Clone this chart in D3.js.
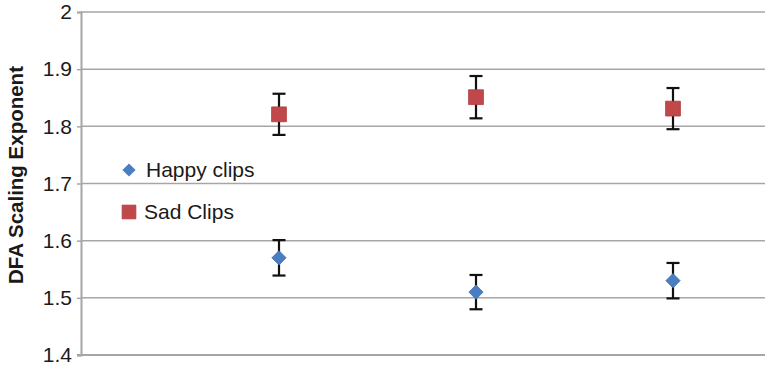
<!DOCTYPE html>
<html>
<head>
<meta charset="utf-8">
<script src="https://cdn.jsdelivr.net/npm/d3@7"></script>
<style>
  html, body { margin: 0; padding: 0; background: #fff; }
  svg { display: block; font-family: Arial, "Liberation Sans", Helvetica, sans-serif; }
</style>
</head>
<body>
<svg id="chart" width="765" height="367"></svg>
<script>
// Clip sets along the x axis (unlabelled on the chart)
const categories = ["Set 1", "Set 2", "Set 3"];
// Mean DFA scaling exponents per clip set
const happyValues = [1.57, 1.51, 1.53];
const sadValues = [1.821, 1.851, 1.831];
// Error bar half-widths
const happyErrors = [0.031, 0.030, 0.031];
const sadErrors = [0.036, 0.037, 0.036];
// Y axis tick values and labels
const yTicks = [1.4, 1.5, 1.6, 1.7, 1.8, 1.9, 2.0];
const yTickLabels = ["1.4", "1.5", "1.6", "1.7", "1.8", "1.9", "2"];
const seriesNames = ["Happy clips", "Sad Clips"];

const svg = d3.select("#chart");
const plotLeft = 81, plotRight = 765, plotTop = 12, plotBottom = 355;

const x = d3.scalePoint().domain(categories).range([279, 673]);
const y = d3.scaleLinear().domain([1.4, 2.0]).range([plotBottom, plotTop]);

// Horizontal gridlines
svg.append("g").selectAll("line").data(yTicks.slice(1)).join("line")
  .attr("x1", plotLeft).attr("x2", plotRight)
  .attr("y1", d => y(d)).attr("y2", d => y(d))
  .attr("stroke", "#a6a6a6").attr("stroke-width", 1.5);

// Y axis with ticks on the left
const yAxis = d3.axisLeft(y).tickValues(yTicks)
  .tickFormat((d, i) => yTickLabels[i]).tickSize(4).tickPadding(5);
const gy = svg.append("g").attr("transform", `translate(${plotLeft},0)`).call(yAxis);
gy.select(".domain").attr("stroke", "#a6a6a6").attr("stroke-width", 2);
gy.selectAll(".tick line").attr("stroke", "#a6a6a6").attr("stroke-width", 1.5);
gy.selectAll(".tick text").attr("fill", "#1a1a1a").style("font-size", "21px")
  .attr("font-family", "Arial, 'Liberation Sans', sans-serif");

// Bottom axis line
svg.append("line").attr("x1", plotLeft - 4).attr("x2", plotRight)
  .attr("y1", plotBottom).attr("y2", plotBottom)
  .attr("stroke", "#a6a6a6").attr("stroke-width", 2);

// Y axis title
svg.append("text")
  .attr("transform", `translate(23,${175}) rotate(-90)`)
  .attr("text-anchor", "middle")
  .attr("font-weight", "bold").attr("font-size", 20.5)
  .attr("fill", "#1a1a1a")
  .text("DFA Scaling Exponent");

// Error bars
function errorBars(values, errs, cls) {
  const g = svg.append("g").attr("class", cls);
  const data = categories.map((c, i) => ({ c, v: values[i], e: errs[i] }));
  g.selectAll("line.stem").data(data).join("line").attr("class", "stem")
    .attr("x1", d => x(d.c)).attr("x2", d => x(d.c))
    .attr("y1", d => y(d.v + d.e)).attr("y2", d => y(d.v - d.e))
    .attr("stroke", "#111").attr("stroke-width", 2.2);
  ["capTop", "capBot"].forEach(k => {
    g.selectAll("line." + k).data(data).join("line").attr("class", k)
      .attr("x1", d => x(d.c) - 6.5).attr("x2", d => x(d.c) + 6.5)
      .attr("y1", d => y(k === "capTop" ? d.v + d.e : d.v - d.e))
      .attr("y2", d => y(k === "capTop" ? d.v + d.e : d.v - d.e))
      .attr("stroke", "#111").attr("stroke-width", 2.2);
  });
}
errorBars(happyValues, happyErrors, "err-happy");
errorBars(sadValues, sadErrors, "err-sad");

const diamond = d3.symbol().type(d3.symbolDiamond2).size(130);
const square = d3.symbol().type(d3.symbolSquare2).size(280);

// Happy clips markers (blue diamonds)
svg.append("g").selectAll("path").data(happyValues).join("path")
  .attr("d", diamond)
  .attr("transform", (d, i) => `translate(${x(categories[i])},${y(d)})`)
  .attr("fill", "#4a7ec0").attr("stroke", "#3f6fb0").attr("stroke-width", 0.8);

// Sad clips markers (red squares)
svg.append("g").selectAll("path").data(sadValues).join("path")
  .attr("d", square)
  .attr("transform", (d, i) => `translate(${x(categories[i])},${y(d)})`)
  .attr("fill", "#c0484a").attr("stroke", "#b03c3e").attr("stroke-width", 0.8);

// Legend
const legend = svg.append("g");
legend.append("path").attr("d", d3.symbol().type(d3.symbolDiamond2).size(110))
  .attr("transform", "translate(129,170)").attr("fill", "#4a7ec0");
legend.append("text").attr("x", 146).attr("y", 177).attr("font-size", 21)
  .attr("fill", "#1a1a1a").text(seriesNames[0]);
legend.append("path").attr("d", d3.symbol().type(d3.symbolSquare2).size(240))
  .attr("transform", "translate(129,212)").attr("fill", "#c0484a").attr("stroke", "#b03c3e").attr("stroke-width", 0.8);
legend.append("text").attr("x", 144).attr("y", 219).attr("font-size", 21)
  .attr("fill", "#1a1a1a").text(seriesNames[1]);
</script>
</body>
</html>
